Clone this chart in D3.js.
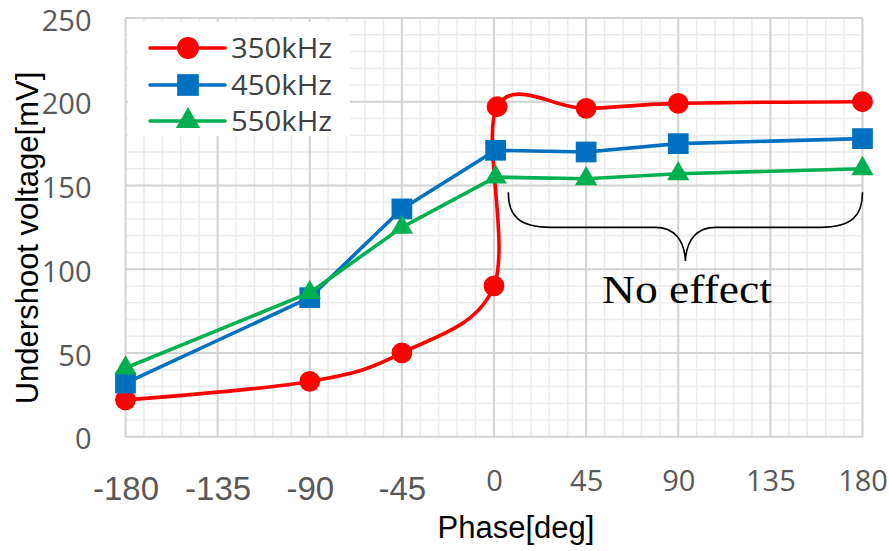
<!DOCTYPE html>
<html>
<head>
<meta charset="utf-8">
<script src="https://cdn.jsdelivr.net/npm/d3@7"></script>
<style>
  html, body { margin: 0; padding: 0; background: #fff; }
  svg { display: block; }
</style>
</head>
<body>
<svg id="chart" width="889" height="551"></svg>
<script>
// ---- data ----
const xTicks = [-180, -135, -90, -45, 0, 45, 90, 135, 180];
const yTicks = [0, 50, 100, 150, 200, 250];

const phase350 = [-180, -90, -45, 0, 1.5, 45, 90, 180];
const volt350  = [22, 33, 50, 90, 197, 196, 199, 200];

const phase450 = [-180, -90, -45, 0.8, 45, 90, 180];
const volt450  = [32, 83, 136, 171, 170, 175, 178];

const phase550 = [-180, -90, -45, 0.8, 45, 90, 180];
const volt550  = [41, 86, 125, 155, 154, 157, 160];

const seriesNames = ["350kHz", "450kHz", "550kHz"];
const seriesColors = ["#ff0000", "#0070c0", "#00b050"];

const annotationText = "No effect";
// brace in data units: from phase 7 to 180, top at 146 mV, horizontal at 125, tip at 105
const braceX = [7, 180];
const braceY = [146, 125, 105];

// ---- layout ----
const svg = d3.select("#chart");
const x = d3.scaleLinear().domain([-180, 180]).range([125.5, 862.5]);
const y = d3.scaleLinear().domain([0, 250]).range([436.7, 18]);

// minor grid
const g = svg.append("g");
const xMinor = d3.range(-180, 181, 9);
const yMinor = d3.range(0, 251, 10);
g.selectAll(".vminor").data(xMinor).join("line")
  .attr("x1", d => x(d)).attr("x2", d => x(d))
  .attr("y1", y(0)).attr("y2", y(250))
  .attr("stroke", "#ebebeb").attr("stroke-width", 1.5);
g.selectAll(".hminor").data(yMinor).join("line")
  .attr("y1", d => y(d)).attr("y2", d => y(d))
  .attr("x1", x(-180)).attr("x2", x(180))
  .attr("stroke", "#ebebeb").attr("stroke-width", 1.5);
// major grid
g.selectAll(".vmajor").data(xTicks).join("line")
  .attr("x1", d => x(d)).attr("x2", d => x(d))
  .attr("y1", y(0)).attr("y2", y(250))
  .attr("stroke", "#d3d3d3").attr("stroke-width", 2);
g.selectAll(".hmajor").data(yTicks).join("line")
  .attr("y1", d => y(d)).attr("y2", d => y(d))
  .attr("x1", x(-180)).attr("x2", x(180))
  .attr("stroke", "#d3d3d3").attr("stroke-width", 2);

// axes
const yAxis = svg.append("g")
  .attr("transform", `translate(${x(-180)},0)`)
  .call(d3.axisLeft(y).tickValues(yTicks).tickSize(0).tickPadding(34));
yAxis.select(".domain").remove();
yAxis.selectAll("text")
  .attr("font-family", "'Open Sans', sans-serif")
  .attr("font-size", 29)
  .attr("fill", "#595959")
  .attr("dy", "0.42em");

const xAxis = svg.append("g")
  .attr("transform", `translate(0,${y(0)})`)
  .call(d3.axisBottom(x).tickValues(xTicks).tickSize(0).tickFormat(d => String(d)));
xAxis.select(".domain").remove();
xAxis.selectAll("text")
  .attr("fill", "#595959")
  .attr("dy", 0)
  .each(function(d) {
    const t = d3.select(this);
    if (d < 0) {
      t.attr("font-family", "'Liberation Sans', Arial, sans-serif")
       .attr("font-size", 33).attr("y", 63);
    } else {
      t.attr("font-family", "'Open Sans', sans-serif")
       .attr("font-size", 29).attr("y", 54);
    }
  });

// axis titles
svg.append("text")
  .attr("transform", `translate(38,238) rotate(-90)`)
  .attr("text-anchor", "middle")
  .attr("font-family", "'Liberation Sans', Arial, sans-serif")
  .attr("font-size", 31)
  .attr("fill", "#000")
  .text("Undershoot voltage[mV]");
svg.append("text")
  .attr("x", 516).attr("y", 538)
  .attr("text-anchor", "middle")
  .attr("font-family", "'Liberation Sans', Arial, sans-serif")
  .attr("font-size", 31)
  .attr("fill", "#000")
  .text("Phase[deg]");

// series
const series = [
  {name: seriesNames[0], color: seriesColors[0], xs: phase350, ys: volt350, sym: d3.symbolCircle, size: 340, curve: d3.curveCardinal.tension(0)},
  {name: seriesNames[1], color: seriesColors[1], xs: phase450, ys: volt450, sym: d3.symbolSquare, size: 430, curve: d3.curveLinear},
  {name: seriesNames[2], color: seriesColors[2], xs: phase550, ys: volt550, sym: d3.symbolTriangle, size: 215, curve: d3.curveLinear}
];

series.forEach(s => {
  const pts = s.xs.map((p, i) => [p, s.ys[i]]);
  const line = d3.line().x(d => x(d[0])).y(d => y(d[1])).curve(s.curve);
  const sg = svg.append("g");
  sg.append("path").attr("d", line(pts))
    .attr("fill", "none").attr("stroke", s.color)
    .attr("stroke-width", 3.6).attr("stroke-linejoin", "round").attr("stroke-linecap", "round");
  sg.selectAll("path.m").data(pts).join("path").attr("class", "m")
    .attr("d", d3.symbol().type(s.sym).size(s.size)())
    .attr("transform", d => `translate(${x(d[0])},${y(d[1])})`)
    .attr("fill", s.color);
});

// legend
const lg = svg.append("g");
lg.append("rect").attr("x", 128).attr("y", 22).attr("width", 222).attr("height", 114).attr("fill", "#fff");
const rowY = [48, 85, 121];
series.forEach((s, i) => {
  lg.append("line").attr("x1", 150).attr("x2", 225).attr("y1", rowY[i]).attr("y2", rowY[i])
    .attr("stroke", s.color).attr("stroke-width", 3.6).attr("stroke-linecap", "round");
  lg.append("path").attr("d", d3.symbol().type(s.sym).size(s.size + 40)())
    .attr("transform", `translate(188,${rowY[i]})`).attr("fill", s.color);
  lg.append("text").attr("x", 231).attr("y", rowY[i]).attr("dy", "0.36em")
    .attr("font-family", "'Open Sans', sans-serif").attr("font-size", 28)
    .attr("fill", "#404040")
    .attr("textLength", 101).attr("lengthAdjust", "spacingAndGlyphs")
    .text(s.name);
});

// brace annotation
const bx0 = x(braceX[0]), bx1 = x(braceX[1]), bxm = (bx0 + bx1) / 2;
const byT = y(braceY[0]), byH = y(braceY[1]), byP = y(braceY[2]);
const bracePath = d3.path();
bracePath.moveTo(bx0, byT);
bracePath.bezierCurveTo(bx0, byH - 12, bx0 + 10, byH, bx0 + 42, byH);
bracePath.lineTo(bxm - 30, byH);
bracePath.bezierCurveTo(bxm - 12, byH, bxm - 1, byH + 12, bxm, byP);
bracePath.bezierCurveTo(bxm + 1, byH + 12, bxm + 12, byH, bxm + 30, byH);
bracePath.lineTo(bx1 - 42, byH);
bracePath.bezierCurveTo(bx1 - 10, byH, bx1, byH - 12, bx1, byT);
svg.append("path").attr("d", bracePath.toString())
  .attr("fill", "none").attr("stroke", "#000").attr("stroke-width", 1.6);

svg.append("text")
  .attr("x", 687).attr("y", 303)
  .attr("text-anchor", "middle")
  .attr("font-family", "'Liberation Serif', 'Times New Roman', serif")
  .attr("font-size", 39)
  .attr("fill", "#000")
  .attr("textLength", 170).attr("lengthAdjust", "spacingAndGlyphs")
  .text(annotationText);
</script>
</body>
</html>
